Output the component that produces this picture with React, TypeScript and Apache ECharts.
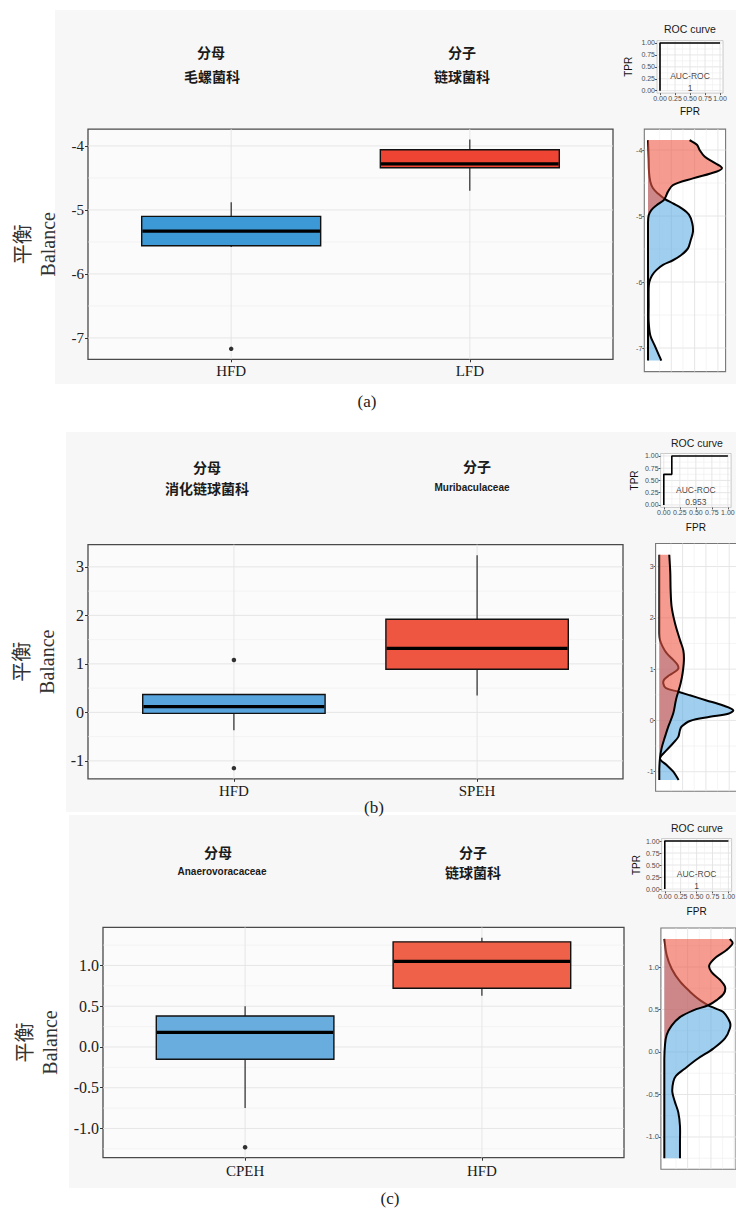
import React, { useEffect, useRef } from 'react';
import * as echarts from 'echarts';

// ---------------- Data ----------------
// Panel (a)
const categoriesA = ['HFD', 'LFD'];
// [lowerWhisker, q1, median, q3, upperWhisker]
const boxStatsA = [
  [-5.58, -5.56, -5.33, -5.1, -4.88],
  [-4.7, -4.34, -4.28, -4.06, -3.9],
];
const outliersA = [[1, -7.17]];
const yTicksA = [-7, -6, -5, -4];
const yTickLabelsA = ['-7', '-6', '-5', '-4'];
const yMinorA = [-6.5, -5.5, -4.5];
// [balance, density]
const densityFirstA = [
  [-3.85, 0.0], [-4.13, 0.02], [-4.33, 0.03], [-4.48, 0.07], [-4.58, 0.15], [-4.66, 0.3],
  [-4.74, 0.5], [-4.81, 0.75], [-4.88, 1.0], [-4.98, 1.23], [-5.11, 1.33], [-5.24, 1.35],
  [-5.37, 1.28], [-5.49, 1.2], [-5.59, 1.0], [-5.67, 0.75], [-5.74, 0.45], [-5.82, 0.25],
  [-5.9, 0.12], [-6.0, 0.04], [-6.1, 0.02], [-6.35, 0.02], [-6.6, 0.02], [-6.81, 0.07],
  [-6.96, 0.2], [-7.11, 0.33], [-7.19, 0.4],
];
const densitySecondA = [
  [-3.85, 1.25], [-3.92, 1.47], [-4.0, 1.55], [-4.1, 1.7], [-4.18, 1.95], [-4.27, 2.22],
  [-4.33, 2.05], [-4.43, 1.35], [-4.53, 0.75], [-4.63, 0.6], [-4.71, 0.53], [-4.76, 0.47],
  [-4.84, 0.25], [-4.91, 0.1], [-4.99, 0.02], [-5.1, 0.0], [-5.5, 0.0], [-6.0, 0.0],
  [-6.5, 0.0], [-7.0, 0.0], [-7.19, 0.0],
];
const rocA = [[0, 0], [0, 1], [1, 1]];
const aucA = '1';

// Panel (b)
const categoriesB = ['HFD', 'SPEH'];
const boxStatsB = [
  [-0.37, -0.02, 0.12, 0.37, 0.38],
  [0.35, 0.89, 1.32, 1.92, 3.24],
];
const outliersB = [[1, 1.08], [1, -1.15]];
const yTicksB = [-1, 0, 1, 2, 3];
const yTickLabelsB = ['-1', '0', '1', '2', '3'];
const yMinorB = [-0.5, 0.5, 1.5, 2.5];
const densityFirstB = [
  [3.23, 0.0], [2.6, 0.0], [2.0, 0.0], [1.7, 0.0], [1.57, 0.02], [1.44, 0.1], [1.31, 0.22],
  [1.18, 0.42], [1.08, 0.55], [1.01, 0.57], [0.95, 0.47], [0.88, 0.3], [0.8, 0.15],
  [0.72, 0.12], [0.63, 0.2], [0.56, 0.57], [0.49, 0.92], [0.39, 1.42], [0.29, 1.92],
  [0.2, 2.22], [0.13, 2.07], [0.07, 1.52], [-0.01, 0.92], [-0.12, 0.67], [-0.19, 0.62],
  [-0.32, 0.57], [-0.44, 0.42], [-0.58, 0.22], [-0.74, 0.02], [-0.87, 0.22], [-1.0, 0.42],
  [-1.16, 0.58],
];
const densitySecondB = [
  [3.23, 0.3], [2.88, 0.33], [2.55, 0.34], [2.22, 0.37], [1.9, 0.47], [1.57, 0.62],
  [1.37, 0.72], [1.18, 0.74], [0.92, 0.7], [0.72, 0.64], [0.56, 0.57], [0.4, 0.5],
  [0.14, 0.42], [-0.12, 0.27], [-0.32, 0.17], [-0.54, 0.07], [-0.74, 0.02], [-0.95, 0.0],
  [-1.16, 0.0],
];
const rocB = [[0, 0], [0, 0.625], [0.125, 0.625], [0.125, 1], [1, 1]];
const aucB = '0.953';

// Panel (c)
const categoriesC = ['CPEH', 'HFD'];
const boxStatsC = [
  [-0.75, -0.15, 0.18, 0.38, 0.5],
  [0.63, 0.72, 1.05, 1.29, 1.34],
];
const outliersC = [[1, -1.23]];
const yTicksC = [-1, -0.5, 0, 0.5, 1];
const yTickLabelsC = ['-1.0', '-0.5', '0.0', '0.5', '1.0'];
const yMinorC = [-1.25, -0.75, -0.25, 0.25, 0.75, 1.25];
const densityFirstC = [
  [1.33, 0.0], [1.14, 0.07], [0.98, 0.22], [0.83, 0.47], [0.71, 0.77], [0.61, 1.07],
  [0.55, 1.32], [0.51, 1.55], [0.47, 1.77], [0.35, 1.97], [0.28, 1.97], [0.16, 1.82],
  [0.04, 1.47], [-0.08, 1.0], [-0.2, 0.6], [-0.28, 0.35], [-0.35, 0.27], [-0.47, 0.24],
  [-0.59, 0.32], [-0.71, 0.42], [-0.87, 0.47], [-1.06, 0.47], [-1.25, 0.47],
];
const densitySecondC = [
  [1.33, 1.97], [1.28, 2.05], [1.2, 1.87], [1.12, 1.57], [1.02, 1.35], [0.94, 1.42],
  [0.85, 1.67], [0.77, 1.82], [0.69, 1.79], [0.61, 1.57], [0.55, 1.32], [0.49, 0.87],
  [0.41, 0.47], [0.31, 0.22], [0.2, 0.07], [0.08, 0.02], [-0.08, 0.0], [-0.4, 0.0],
  [-0.8, 0.0], [-1.25, 0.0],
];
const rocC = [[0, 0], [0, 1], [1, 1]];
const aucC = '1';

// Shared
const rocTicks = [0, 0.25, 0.5, 0.75, 1];
const rocMinor = [0.125, 0.375, 0.625, 0.875];
const densityGridX = [0.35, 0.7, 1.05, 1.4, 1.75, 2.1];
const aucPosition = [0.5, 0.19];

// ---------------- Styling ----------------
const SERIF = "'Liberation Serif', 'Times New Roman', 'Noto Sans CJK SC', serif";
const SANS_N = "'Liberation Sans Narrow', 'Liberation Sans', Arial, sans-serif";
const CJK = "'Noto Sans CJK SC', 'Noto Sans', sans-serif";

const BOX_COLORS = [
  ['#3D99D6', '#EE4433'],
  ['#57A5DC', '#EF5641'],
  ['#68ADDE', '#EF6249'],
];
const DENS_BLUE = 'rgba(80,165,225,0.55)';
const DENS_RED = 'rgba(238,88,68,0.6)';

function ext(values: number[], pad = 0.05): [number, number] {
  const mn = Math.min(...values);
  const mx = Math.max(...values);
  const s = mx - mn;
  return [mn - s * pad, mx + s * pad];
}

function smoothSegments(pts: number[][], baseX: number): string {
  let d = '';
  const dist = (a: number[], b: number[]) => Math.hypot(b[0] - a[0], b[1] - a[1]) || 1e-6;
  for (let i = 0; i < pts.length - 1; i++) {
    const p0 = pts[i - 1] || pts[i];
    const p1 = pts[i];
    const p2 = pts[i + 1];
    const p3 = pts[i + 2] || pts[i + 1];
    const d01 = i === 0 ? 0 : dist(p0, p1);
    const d12 = dist(p1, p2);
    const d23 = i + 2 < pts.length ? dist(p2, p3) : 0;
    const t1 = [(p2[0] - p0[0]) / (d01 + d12), (p2[1] - p0[1]) / (d01 + d12)];
    const t2 = [(p3[0] - p1[0]) / (d12 + d23), (p3[1] - p1[1]) / (d12 + d23)];
    const c1x = Math.max(baseX, p1[0] + (t1[0] * d12) / 3);
    const c1y = p1[1] + (t1[1] * d12) / 3;
    const c2x = Math.max(baseX, p2[0] - (t2[0] * d12) / 3);
    const c2y = p2[1] - (t2[1] * d12) / 3;
    d += ` C${c1x.toFixed(2)},${c1y.toFixed(2)} ${c2x.toFixed(2)},${c2y.toFixed(2)} ${p2[0].toFixed(2)},${p2[1].toFixed(2)}`;
  }
  return d;
}

function densityRender(points: number[][], fill: string) {
  return (params: any, api: any) => {
    if (params.dataIndex !== 0) return null;
    const px = points.map(([b, d]) => api.coord([d, b]));
    const baseTop = api.coord([0, points[0][0]]);
    const baseBot = api.coord([0, points[points.length - 1][0]]);
    const segs = smoothSegments(px, baseTop[0]);
    const first = `${px[0][0].toFixed(2)},${px[0][1].toFixed(2)}`;
    const area = `M${baseTop[0]},${baseTop[1]} L${first}${segs} L${baseBot[0]},${baseBot[1]} Z`;
    const curve = `M${first}${segs}`;
    return {
      type: 'group',
      children: [
        { type: 'path', shape: { pathData: area }, style: { fill, stroke: null } },
        {
          type: 'path',
          shape: { pathData: curve },
          style: { fill: 'none', stroke: '#000', lineWidth: 2, lineJoin: 'round' },
        },
      ],
    };
  };
}

function boxRender(colors: string[]) {
  return (params: any, api: any) => {
    const x = api.value(0);
    const lo = api.coord([x, api.value(1)]);
    const q1 = api.coord([x, api.value(2)]);
    const md = api.coord([x, api.value(3)]);
    const q3 = api.coord([x, api.value(4)]);
    const hi = api.coord([x, api.value(5)]);
    const w = api.size([0.75, 0], [x, 0])[0];
    const cx = md[0];
    return {
      type: 'group',
      children: [
        { type: 'line', shape: { x1: cx, y1: hi[1], x2: cx, y2: q3[1] }, style: { stroke: '#1a1a1a', lineWidth: 1.1 } },
        { type: 'line', shape: { x1: cx, y1: q1[1], x2: cx, y2: lo[1] }, style: { stroke: '#1a1a1a', lineWidth: 1.1 } },
        {
          type: 'rect',
          shape: { x: cx - w / 2, y: q3[1], width: w, height: q1[1] - q3[1] },
          style: { fill: colors[params.dataIndex], stroke: '#111', lineWidth: 1.4 },
        },
        {
          type: 'line',
          shape: { x1: cx - w / 2 + 0.7, y1: md[1], x2: cx + w / 2 - 0.7, y2: md[1] },
          style: { stroke: '#000', lineWidth: 3.2 },
        },
      ],
    };
  };
}

function gridRender(params: any, api: any) {
  const cs = params.coordSys;
  const v = api.value(0);
  const vertical = api.value(1) === 1;
  const major = api.value(2) === 1;
  const style = { stroke: major ? '#E3E3E3' : '#EEEEEE', lineWidth: major ? 0.9 : 0.6 };
  if (vertical) {
    const x = api.coord([v, 0])[0];
    return { type: 'line', shape: { x1: x, y1: cs.y, x2: x, y2: cs.y + cs.height }, style };
  }
  const y = api.coord([0, v])[1];
  return { type: 'line', shape: { x1: cs.x, y1: y, x2: cs.x + cs.width, y2: y }, style };
}

function findLabel(ticks: number[], labels: string[], v: number) {
  for (let i = 0; i < ticks.length; i++) if (Math.abs(ticks[i] - v) < 1e-6) return labels[i];
  return '';
}

type Rect = { left: number; top: number; width: number; height: number };
type PanelDef = {
  cats: string[];
  boxStats: number[][];
  outliers: number[][];
  yTicks: number[];
  yLabels: string[];
  yMinor: number[];
  dens1: number[][];
  dens2: number[][];
  roc: number[][];
  auc: string;
  colors: string[];
  box: Rect;
  dens: Rect;
  rocRect: Rect;
  yNameGap: number;
  xLabelMargin: number;
  yFont: number;
  tprGap: number;
  fprGap: number;
  densFont: number;
};

const panels: PanelDef[] = [
  {
    cats: categoriesA, boxStats: boxStatsA, outliers: outliersA, yTicks: yTicksA, yLabels: yTickLabelsA,
    yMinor: yMinorA, dens1: densityFirstA, dens2: densitySecondA, roc: rocA, auc: aucA, colors: BOX_COLORS[0],
    box: { left: 88, top: 129.1, width: 525, height: 230.2 },
    dens: { left: 644.3, top: 129.1, width: 81.3, height: 242.5 },
    rocRect: { left: 657, top: 40.6, width: 66, height: 52.5 },
    yNameGap: 28, xLabelMargin: 4, yFont: 15, tprGap: 23, fprGap: 13, densFont: 7,
  },
  {
    cats: categoriesB, boxStats: boxStatsB, outliers: outliersB, yTicks: yTicksB, yLabels: yTickLabelsB,
    yMinor: yMinorB, dens1: densityFirstB, dens2: densitySecondB, roc: rocB, auc: aucB, colors: BOX_COLORS[1],
    box: { left: 88, top: 544.6, width: 535, height: 234.2 },
    dens: { left: 655.6, top: 543.5, width: 81.3, height: 247.7 },
    rocRect: { left: 660.6, top: 453.5, width: 70.5, height: 53.9 },
    yNameGap: 26.5, xLabelMargin: 5, yFont: 16, tprGap: 21, fprGap: 15, densFont: 7,
  },
  {
    cats: categoriesC, boxStats: boxStatsC, outliers: outliersC, yTicks: yTicksC, yLabels: yTickLabelsC,
    yMinor: yMinorC, dens1: densityFirstC, dens2: densitySecondC, roc: rocC, auc: aucC, colors: BOX_COLORS[2],
    box: { left: 103, top: 927.3, width: 521, height: 230.4 },
    dens: { left: 660.9, top: 928, width: 75.1, height: 241.2 },
    rocRect: { left: 661.6, top: 838.6, width: 70, height: 52.8 },
    yNameGap: 38.5, xLabelMargin: 6, yFont: 16, tprGap: 19, fprGap: 15, densFont: 7.5,
  },
];

function buildOption() {
  const grid: any[] = [];
  const xAxis: any[] = [];
  const yAxis: any[] = [];
  const series: any[] = [];
  const hiddenLine = { show: false, onZero: false };

  panels.forEach((p, pi) => {
    const gBox = pi * 3;
    const gDen = pi * 3 + 1;
    const gRoc = pi * 3 + 2;

    // ---- box plot grid
    grid.push({
      ...p.box, show: true, backgroundColor: '#FBFBFB', borderColor: '#4A4A4A', borderWidth: 1.3,
      containLabel: false, outerBoundsMode: 'none',
    });
    const boxVals = p.boxStats.flat().concat(p.outliers.map((o) => o[1]));
    const boxRange = ext(boxVals);
    xAxis.push({
      gridIndex: gBox, type: 'value', min: 0.4, max: 2.6, position: 'bottom',
      axisLine: hiddenLine, splitLine: { show: false },
      axisTick: { show: true, customValues: [1, 2], length: 3, lineStyle: { color: '#333' } },
      axisLabel: {
        customValues: [1, 2], formatter: (v: number) => p.cats[Math.round(v) - 1] || '',
        margin: p.xLabelMargin, fontFamily: SERIF, fontSize: 15, color: '#1a1a1a',
      },
    });
    yAxis.push({
      gridIndex: gBox, type: 'value', min: boxRange[0], max: boxRange[1], position: 'left',
      axisLine: hiddenLine, splitLine: { show: false },
      axisTick: { show: true, customValues: p.yTicks, length: 3, lineStyle: { color: '#333' } },
      axisLabel: {
        customValues: p.yTicks, formatter: (v: number) => findLabel(p.yTicks, p.yLabels, v),
        margin: 4, fontFamily: SERIF, fontSize: p.yFont, color: '#222',
      },
      name: '平衡\nBalance', nameLocation: 'middle', nameRotate: 90, nameGap: p.yNameGap,
      nameTextStyle: { fontFamily: SERIF, fontSize: 20, lineHeight: 25, color: '#333' },
    });
    const boxGridData = [
      ...p.yTicks.map((v) => [v, 0, 1]),
      ...p.yMinor.map((v) => [v, 0, 0]),
      ...[1, 2].map((v) => [v, 1, 1]),
    ];
    series.push({
      type: 'custom', xAxisIndex: gBox, yAxisIndex: gBox, z: 1, silent: true,
      data: boxGridData, renderItem: gridRender,
    });
    series.push({
      type: 'custom', xAxisIndex: gBox, yAxisIndex: gBox, z: 2, silent: true,
      data: p.boxStats.map((s, i) => [i + 1, ...s]),
      encode: { x: 0, y: [1, 2, 3, 4, 5] },
      renderItem: boxRender(p.colors),
    });
    series.push({
      type: 'scatter', xAxisIndex: gBox, yAxisIndex: gBox, z: 3, silent: true,
      data: p.outliers, symbol: 'circle', symbolSize: 4.5, itemStyle: { color: '#000' },
    });

    // ---- density grid
    grid.push({
      ...p.dens, show: true, backgroundColor: '#FFFFFF', borderColor: '#777', borderWidth: 1.1,
      containLabel: false, outerBoundsMode: 'none',
    });
    const denVals = p.dens1.concat(p.dens2);
    const balRange = ext(denVals.map((d) => d[0]));
    const maxD = Math.max(...denVals.map((d) => d[1]));
    xAxis.push({
      gridIndex: gDen, type: 'value', min: -0.05 * maxD, max: 1.05 * maxD, show: false,
      axisLine: hiddenLine, splitLine: { show: false },
    });
    yAxis.push({
      gridIndex: gDen, type: 'value', min: balRange[0], max: balRange[1], position: 'left',
      axisLine: hiddenLine, splitLine: { show: false },
      axisTick: { show: true, customValues: p.yTicks, length: 2, lineStyle: { color: '#555' } },
      axisLabel: {
        customValues: p.yTicks, formatter: (v: number) => findLabel(p.yTicks, p.yLabels, v),
        margin: 2, fontFamily: SANS_N, fontSize: p.densFont, color: '#4D4D4D',
      },
    });
    const denGridData = [
      ...p.yTicks.map((v) => [v, 0, 1]),
      ...p.yMinor.map((v) => [v, 0, 0]),
      ...densityGridX.filter((v) => v < 1.05 * maxD).map((v, i) => [v, 1, i % 2 === 1 ? 1 : 0]),
    ];
    series.push({
      type: 'custom', xAxisIndex: gDen, yAxisIndex: gDen, z: 1, silent: true,
      data: denGridData, renderItem: gridRender,
    });
    series.push({
      type: 'custom', xAxisIndex: gDen, yAxisIndex: gDen, z: 2, silent: true,
      data: p.dens1.map(([b, d]) => [d, b]), encode: { x: 0, y: 1 },
      renderItem: densityRender(p.dens1, DENS_BLUE),
    });
    series.push({
      type: 'custom', xAxisIndex: gDen, yAxisIndex: gDen, z: 2, silent: true,
      data: p.dens2.map(([b, d]) => [d, b]), encode: { x: 0, y: 1 },
      renderItem: densityRender(p.dens2, DENS_RED),
    });

    // ---- ROC grid
    grid.push({
      ...p.rocRect, show: true, backgroundColor: '#FFFFFF', borderColor: '#BDBDBD', borderWidth: 0.8,
      containLabel: false, outerBoundsMode: 'none',
    });
    const rocAxis = (gi: number, name: string, isY: boolean, gap: number) => ({
      gridIndex: gi, type: 'value', min: -0.05, max: 1.05, position: isY ? 'left' : 'bottom',
      axisLine: hiddenLine, splitLine: { show: false },
      axisTick: { show: true, customValues: rocTicks, length: 2, lineStyle: { color: '#555' } },
      axisLabel: {
        customValues: rocTicks, formatter: (v: number) => v.toFixed(2),
        margin: 2, fontFamily: SANS_N, fontSize: 7, color: '#4D4D4D',
      },
      name, nameLocation: 'middle', nameGap: gap, nameRotate: isY ? 90 : 0,
      nameTextStyle: { fontFamily: SANS_N, fontSize: 10, color: '#111', lineHeight: 11 },
    });
    xAxis.push(rocAxis(gRoc, 'FPR', false, p.fprGap));
    yAxis.push(rocAxis(gRoc, 'TPR', true, p.tprGap));
    const rocGridData = [
      ...rocTicks.map((v) => [v, 0, 1]),
      ...rocMinor.map((v) => [v, 0, 0]),
      ...rocTicks.map((v) => [v, 1, 1]),
      ...rocMinor.map((v) => [v, 1, 0]),
    ];
    series.push({
      type: 'custom', xAxisIndex: gRoc, yAxisIndex: gRoc, z: 1, silent: true,
      data: rocGridData, renderItem: gridRender,
    });
    series.push({
      type: 'line', xAxisIndex: gRoc, yAxisIndex: gRoc, z: 3, silent: true,
      data: p.roc, symbol: 'none', lineStyle: { color: '#000', width: 1.6 },
    });
    series.push({
      type: 'scatter', xAxisIndex: gRoc, yAxisIndex: gRoc, z: 4, silent: true,
      data: [aucPosition], symbolSize: 0.1, itemStyle: { color: 'rgba(0,0,0,0)' },
      label: {
        show: true, position: 'inside', formatter: 'AUC-ROC\n' + p.auc,
        fontFamily: SANS_N, fontSize: 8.5, lineHeight: 12, color: '#111',
      },
    });
  });

  const txt = (text: string, x: number, y: number, font: string, size: number, weight = 'normal', fill = '#1a1a1a') => ({
    type: 'text', x, y, z: 10, silent: true,
    style: { text, fontFamily: font, fontSize: size, fontWeight: weight, fill, align: 'center', verticalAlign: 'middle' },
  });

  const graphic = [
    { type: 'rect', z: -10, silent: true, shape: { x: 55, y: 10, width: 681, height: 374 }, style: { fill: '#F7F7F7' } },
    { type: 'rect', z: -10, silent: true, shape: { x: 66, y: 432, width: 670, height: 380 }, style: { fill: '#F7F7F7' } },
    { type: 'rect', z: -10, silent: true, shape: { x: 69, y: 815, width: 667, height: 373 }, style: { fill: '#F7F7F7' } },
    // headers (a)
    txt('分母', 211, 52, CJK, 14, 'bold'),
    txt('毛螺菌科', 212, 76, CJK, 14, 'bold'),
    txt('分子', 462, 52, CJK, 14, 'bold'),
    txt('链球菌科', 462, 76, CJK, 14, 'bold'),
    // headers (b)
    txt('分母', 207, 467, CJK, 14, 'bold'),
    txt('消化链球菌科', 207, 488, CJK, 14, 'bold'),
    txt('分子', 477, 466, CJK, 14, 'bold'),
    txt('Muribaculaceae', 472, 487, SANS_N, 10, 'bold'),
    // headers (c)
    txt('分母', 218, 852, CJK, 14, 'bold'),
    txt('Anaerovoracaceae', 222, 871, SANS_N, 10, 'bold'),
    txt('分子', 473, 852, CJK, 14, 'bold'),
    txt('链球菌科', 473, 872, CJK, 14, 'bold'),
    // ROC titles
    txt('ROC curve', 690, 29, SANS_N, 10.5),
    txt('ROC curve', 697, 443, SANS_N, 10.5),
    txt('ROC curve', 697, 828, SANS_N, 10.5),
    // panel labels
    txt('(a)', 367, 401, SERIF, 17, 'normal', '#222'),
    txt('(b)', 374, 807, SERIF, 17, 'normal', '#222'),
    txt('(c)', 390, 1198, SERIF, 17, 'normal', '#222'),
  ];

  return {
    animation: false,
    backgroundColor: '#FFFFFF',
    textStyle: { fontFamily: SERIF },
    graphic: { elements: graphic },
    grid,
    xAxis,
    yAxis,
    series,
  };
}

export default function App() {
  const ref = useRef<HTMLDivElement>(null);
  useEffect(() => {
    if (!ref.current) return;
    const chart = echarts.init(ref.current, undefined, { renderer: 'svg' });
    chart.setOption(buildOption() as any);
    return () => chart.dispose();
  }, []);
  return (
    <div
      ref={ref}
      style={{ position: 'absolute', left: 0, top: 0, width: 736, height: 1210 }}
    />
  );
}
